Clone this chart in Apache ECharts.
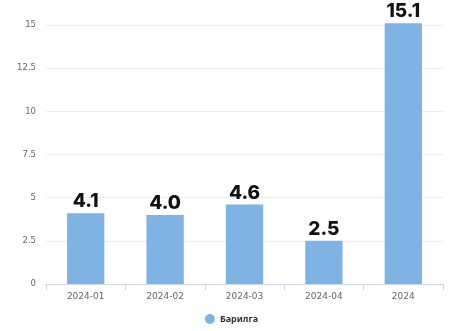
<!DOCTYPE html>
<html>
<head>
<meta charset="utf-8">
<script src="https://cdn.jsdelivr.net/npm/echarts@6/dist/echarts.min.js"></script>
<style>
  html, body { margin: 0; padding: 0; background: #fff; }
  #chart { width: 463px; height: 331px; }
</style>
</head>
<body>
<div id="chart"></div>
<script>
const categories = ['2024-01', '2024-02', '2024-03', '2024-04', '2024'];
const seriesName = 'Барилга';
const values = [4.1, 4.0, 4.6, 2.5, 15.1];

const chart = echarts.init(document.getElementById('chart'));
chart.setOption({
  animation: false,
  grid: { left: 46, right: 20, top: 25, bottom: 47 },
  legend: {
    bottom: 2,
    left: 'center',
    icon: 'circle',
    itemWidth: 10,
    itemHeight: 10,
    itemGap: 6,
    textStyle: { fontFamily: 'Noto Sans', fontWeight: 'bold', fontSize: 9, color: '#333' }
  },
  xAxis: {
    type: 'category',
    data: categories,
    axisLine: { lineStyle: { color: '#ccd6eb' } },
    axisTick: { show: true, length: 6, lineStyle: { color: '#ccd6eb' } },
    axisLabel: { color: '#666', fontSize: 9, fontFamily: 'DejaVu Sans', margin: 8 }
  },
  yAxis: {
    type: 'value',
    min: 0,
    max: 15,
    interval: 2.5,
    axisLine: { show: false },
    axisTick: { show: false },
    axisLabel: { color: '#666', fontSize: 8.5, fontFamily: 'DejaVu Sans', margin: 10 },
    splitLine: { lineStyle: { color: '#eeeeee' } }
  },
  series: [{
    name: seriesName,
    type: 'bar',
    data: values,
    clip: false,
    barWidth: '47%',
    itemStyle: { color: '#7eb3e3' },
    label: {
      show: true,
      position: 'top',
      distance: 2,
      color: '#111',
      fontFamily: 'Inter',
      fontWeight: 800,
      fontSize: 19,
      formatter: p => p.value.toFixed(1)
    }
  }]
});
</script>
</body>
</html>
